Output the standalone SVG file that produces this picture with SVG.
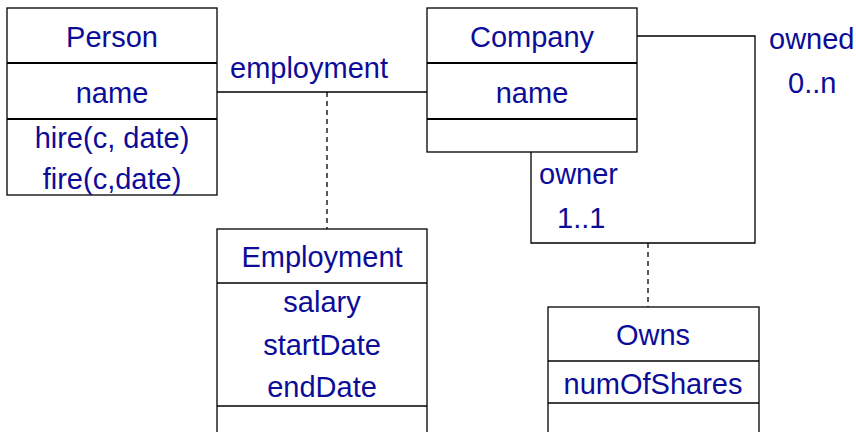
<svg xmlns="http://www.w3.org/2000/svg" width="856" height="432" viewBox="0 0 856 432">
  <style>
    .box { fill: #ffffff; stroke: #000000; stroke-width: 1.3; }
    .div { stroke: #000000; stroke-width: 1.3; }
    .div2 { stroke: #000000; stroke-width: 2; }
    .t { font-family: "Liberation Sans", Arial, sans-serif; font-size: 29px; fill: #0c0c98; }
    .c { text-anchor: middle; }
    .link { fill: none; stroke: #000000; stroke-width: 1.3; }
    .dash { fill: none; stroke: #000000; stroke-width: 1.3; stroke-dasharray: 5 4; }
  </style>

  <!-- associations -->
  <g id="connectors">
    <path class="link" d="M217 92 H427"/>
    <path class="dash" d="M327 92 V229"/>
    <path class="link" d="M637 36 H755 V243 H531 V152"/>
    <path class="dash" d="M648 243 V307"/>
  </g>

  <g id="labels">
    <text class="t" x="230" y="78">employment</text>
    <text class="t" x="769" y="49">owned</text>
    <text class="t" x="788" y="93">0..n</text>
    <text class="t" x="539" y="184">owner</text>
    <text class="t" x="557" y="228">1..1</text>
  </g>

  <g id="person">
    <rect class="box" x="7" y="8" width="210" height="187"/>
    <line class="div2" x1="7" y1="63" x2="217" y2="63"/>
    <line class="div2" x1="7" y1="119" x2="217" y2="119"/>
    <text class="t c" x="112" y="47">Person</text>
    <text class="t c" x="112" y="103">name</text>
    <text class="t c" x="112" y="148">hire(c, date)</text>
    <text class="t c" x="112" y="189">fire(c,date)</text>
  </g>

  <g id="company">
    <rect class="box" x="427" y="8" width="210" height="144"/>
    <line class="div2" x1="427" y1="63" x2="637" y2="63"/>
    <line class="div2" x1="427" y1="119" x2="637" y2="119"/>
    <text class="t c" x="532" y="47">Company</text>
    <text class="t c" x="532" y="103">name</text>
  </g>

  <g id="employment">
    <rect class="box" x="217" y="229" width="210" height="215"/>
    <line class="div" x1="217" y1="283" x2="427" y2="283"/>
    <line class="div" x1="217" y1="406" x2="427" y2="406"/>
    <text class="t c" x="322" y="267">Employment</text>
    <text class="t c" x="322" y="312">salary</text>
    <text class="t c" x="322" y="355">startDate</text>
    <text class="t c" x="322" y="397">endDate</text>
  </g>

  <g id="owns">
    <rect class="box" x="548" y="307" width="211" height="140"/>
    <line class="div" x1="548" y1="361" x2="759" y2="361"/>
    <line class="div" x1="548" y1="403" x2="759" y2="403"/>
    <text class="t c" x="653" y="345">Owns</text>
    <text class="t c" x="653" y="394">numOfShares</text>
  </g>
</svg>
